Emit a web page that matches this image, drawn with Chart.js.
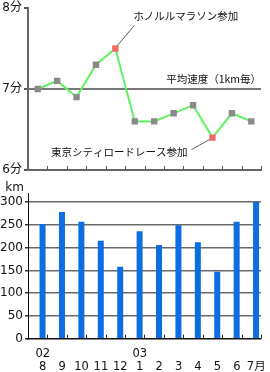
<!DOCTYPE html>
<html>
<head>
<meta charset="utf-8">
<script src="https://cdn.jsdelivr.net/npm/chart.js@4/dist/chart.umd.min.js"></script>
<style>
  html, body { margin: 0; padding: 0; background: #fff; overflow: hidden; }
  #top { position: absolute; left: 0; top: 0; width: 270px; height: 178px; }
  #bottom { position: absolute; left: 0; top: 176px; width: 270px; height: 206px; }
</style>
</head>
<body>
<div id="top"><canvas id="paceChart"></canvas></div>
<div id="bottom"><canvas id="distChart"></canvas></div>
<script>
const months = ['8', '9', '10', '11', '12', '1', '2', '3', '4', '5', '6', '7月'];
const years = ['02', '', '', '', '', '03', '', '', '', '', '', ''];
const pace = [7.0, 7.1, 6.9, 7.3, 7.5, 6.6, 6.6, 6.7, 6.8, 6.4, 6.7, 6.6];
const distance = [252, 278, 257, 215, 158, 236, 206, 249, 212, 147, 257, 300];
const paceTicks = [6, 7, 8];
const distTicks = [0, 50, 100, 150, 200, 250, 300];
const races = [4, 9];
const raceNames = ['ホノルルマラソン参加', '東京シティロードレース参加'];
const averageLabel = '平均速度（1km毎）';

Chart.defaults.font.family = '"DejaVu Sans", "Noto Sans CJK JP", sans-serif';
Chart.defaults.font.size = 12;
Chart.defaults.color = '#111';
Chart.defaults.animation = false;

const jpFont = '10.5px "Noto Sans CJK JP", sans-serif';

// small ticks pointing up from the x axis, at category boundaries
const innerTicks = {
  id: 'innerTicks',
  afterDraw(chart) {
    const x = chart.scales.x;
    const ctx = chart.ctx;
    const step = x.getPixelForValue(1) - x.getPixelForValue(0);
    ctx.save();
    ctx.strokeStyle = chart.options.tickMarkColor || '#333';
    ctx.lineWidth = 1;
    ctx.beginPath();
    for (let i = 0; i < months.length; i++) {
      const px = Math.round(x.getPixelForValue(i) + step / 2) + 0.5;
      ctx.moveTo(px, x.top);
      ctx.lineTo(px, x.top - 4);
    }
    ctx.stroke();
    ctx.restore();
  }
};

// race notes and the average label
const notes = {
  id: 'notes',
  afterDatasetsDraw(chart) {
    const ctx = chart.ctx;
    const pts = chart.getDatasetMeta(0).data;
    const area = chart.chartArea;
    const y7 = chart.scales.y.getPixelForValue(7);
    ctx.save();
    ctx.font = jpFont;
    ctx.fillStyle = '#111';
    ctx.textBaseline = 'middle';

    ctx.textAlign = 'right';
    ctx.fillText(averageLabel, area.right, y7 - 10);

    const a = pts[races[0]];
    const b = pts[races[1]];
    ctx.strokeStyle = '#333';
    ctx.lineWidth = 0.8;
    ctx.beginPath();
    ctx.moveTo(a.x + 2, a.y - 3);
    ctx.lineTo(a.x + 19, a.y - 23);
    ctx.moveTo(b.x - 3, b.y + 2);
    ctx.lineTo(b.x - 21, b.y + 12);
    ctx.stroke();

    ctx.textAlign = 'left';
    ctx.fillText(raceNames[0], a.x + 18, a.y - 32);
    ctx.textAlign = 'right';
    ctx.fillText(raceNames[1], b.x - 25, b.y + 14);
    ctx.restore();
  }
};

const kmLabel = {
  id: 'kmLabel',
  afterDraw(chart) {
    const ctx = chart.ctx;
    ctx.save();
    ctx.font = '12px "DejaVu Sans", sans-serif';
    ctx.fillStyle = '#111';
    ctx.textAlign = 'right';
    ctx.textBaseline = 'middle';
    ctx.fillText('km', 24, chart.chartArea.top - 5);
    ctx.restore();
  }
};

function paceChart() {
  const data = {
    labels: months,
    datasets: [
      {
        data: pace,
        borderColor: '#5ef35e',
        borderWidth: 2,
        pointStyle: 'rect',
        pointRadius: 4.5,
        pointBorderWidth: 0,
        pointBackgroundColor: pace.map((v, i) => races.includes(i) ? '#f06a6a' : '#8a8a8a'),
        tension: 0,
      },
    ],
  };

  const config = {
    type: 'line',
    data,
    options: {
      responsive: true,
      maintainAspectRatio: false,
      tickMarkColor: '#555',
      layout: { padding: { top: 0, right: 9, bottom: 0, left: 0 } },
      plugins: { legend: { display: false }, tooltip: { enabled: false } },
      scales: {
        x: {
          offset: true,
          grid: { display: false, drawTicks: false },
          ticks: { display: false },
          border: { color: '#666', width: 2 },
        },
        y: {
          min: 6,
          max: 8,
          afterBuildTicks: (scale) => { scale.ticks = paceTicks.map(v => ({ value: v })); },
          afterFit: (scale) => { scale.width = 28; },
          ticks: { callback: (v) => v + '分', padding: 2, font: { lineHeight: 1.0 } },
          grid: {
            color: (c) => c.tick && c.tick.value === 7 ? '#777' : 'transparent',
            lineWidth: 2,
            tickColor: '#555',
            tickLength: 4,
          },
          border: { color: '#666', width: 2 },
        },
      },
    },
    plugins: [innerTicks, notes],
  };

  new Chart(document.getElementById('paceChart'), config);
}

function distanceChart() {
  const data = {
    labels: months,
    datasets: [
      { data: months.map(() => null) },
      {
        data: distance,
        backgroundColor: '#0b6fe3',
        barPercentage: 0.62,
        categoryPercentage: 1,
      },
    ],
  };

  const config = {
    type: 'bar',
    data,
    options: {
      responsive: true,
      maintainAspectRatio: false,
      tickMarkColor: '#222',
      layout: { padding: { top: 17, right: 9, bottom: 0, left: 0 } },
      datasets: { bar: { barPercentage: 0.62, categoryPercentage: 1 } },
      plugins: { legend: { display: false }, tooltip: { enabled: false } },
      scales: {
        x: {
          grid: { display: false, drawTicks: false },
          border: { color: '#111', width: 1.5 },
          ticks: {
            autoSkip: false,
            maxRotation: 0,
            labelOffset: 5,
            padding: 9,
            font: { size: 11.5, lineHeight: 1.1 },
            callback: (v, i) => [years[i], months[i]],
          },
        },
        y: {
          min: 0,
          max: 320,
          afterBuildTicks: (scale) => { scale.ticks = distTicks.map(v => ({ value: v })); },
          afterFit: (scale) => { scale.width = 28; },
          ticks: { padding: 2 },
          grid: {
            color: (c) => c.tick && c.tick.value === 0 ? 'transparent' : '#6a6a6a',
            lineWidth: 1.5,
            tickColor: '#333',
            tickLength: 3,
          },
          border: { color: '#111', width: 1 },
        },
      },
    },
    plugins: [innerTicks, kmLabel],
  };

  new Chart(document.getElementById('distChart'), config);
}

paceChart();
distanceChart();
</script>
</body>
</html>
